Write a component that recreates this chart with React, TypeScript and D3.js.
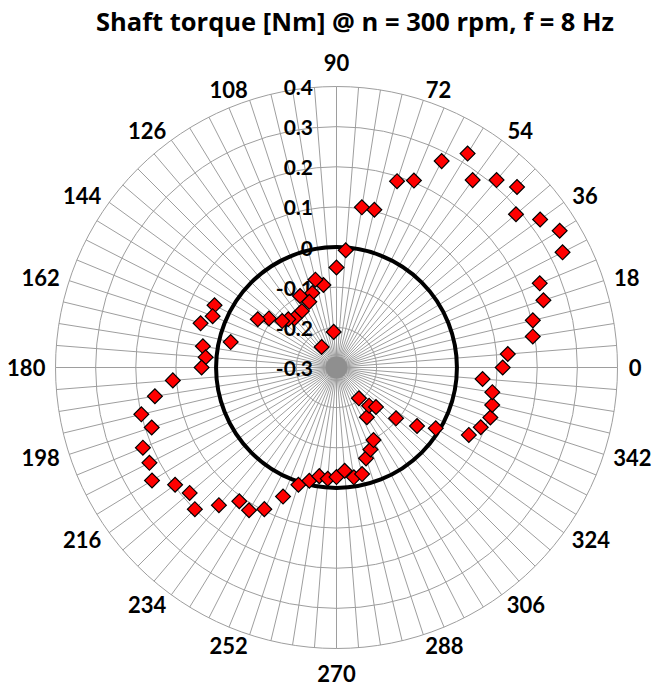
import * as d3 from "d3";

const title = "Shaft torque [Nm] @ n = 300 rpm, f = 8 Hz";

// one category per 4.5 degrees
const angles = [
  0, 4.5, 9, 13.5, 18, 22.5, 27, 31.5, 36, 40.5, 45, 49.5, 54, 58.5, 63, 67.5,
  72, 76.5, 81, 85.5, 90, 94.5, 99, 103.5, 108, 112.5, 117, 121.5, 126, 130.5,
  135, 139.5, 144, 148.5, 153, 157.5, 162, 166.5, 171, 175.5, 180, 184.5, 189,
  193.5, 198, 202.5, 207, 211.5, 216, 220.5, 225, 229.5, 234, 238.5, 243, 247.5,
  252, 256.5, 261, 265.5, 270, 274.5, 279, 283.5, 288, 292.5, 297, 301.5, 306,
  310.5, 315, 319.5, 324, 328.5, 333, 337.5, 342, 346.5, 351, 355.5,
];

const torque = [
  0.114, 0.128, 0.195, 0.203, 0.242, 0.248, 0.332, 0.352, 0.327, 0.288, 0.336,
  0.314, 0.277, 0.325, 0.277, 0.204, 0.188, 0.104, 0.104, -0.007, -0.051,
  -0.211, -0.092, -0.075, -0.105, -0.123, -0.1, -0.135, -0.237, -0.139, -0.13,
  -0.122, -0.092, -0.07, 0.041, 0.034, 0.056, -0.029, 0.037, 0.027, 0.036,
  0.109, 0.158, 0.2, 0.184, 0.222, 0.223, 0.239, 0.197, 0.181, 0.199, 0.151,
  0.112, 0.117, 0.096, 0.048, 0.007, -0.01, -0.026, -0.022, -0.027, -0.042,
  -0.023, -0.027, -0.062, -0.079, -0.097, -0.155, -0.205, -0.175, -0.161,
  -0.105, -0.052, -0.01, 0.07, 0.089, 0.103, 0.099, 0.093, 0.065,
];

// reference line drawn at zero torque
const zeroLine = 0;

const angleTicks = [
  0, 18, 36, 54, 72, 90, 108, 126, 144, 162, 180, 198, 216, 234, 252, 270, 288,
  306, 324, 342,
];
const radialTicks = [-0.3, -0.2, -0.1, 0, 0.1, 0.2, 0.3, 0.4];
const radialTickLabels = ["-0.3", "-0.2", "-0.1", "0", "0.1", "0.2", "0.3", "0.4"];

const W = 652;
const H = 685;
const cx = 336.5;
const cy = 367.5;
const R = 281;
const font = "Lato, 'Open Sans', sans-serif";

export default function App() {
  const r = d3.scaleLinear().domain([-0.3, 0.4]).range([0, R]);
  const rad = (deg: number) => (deg * Math.PI) / 180;
  const px = (deg: number, rr: number) => cx + rr * Math.cos(rad(deg));
  const py = (deg: number, rr: number) => cy - rr * Math.sin(rad(deg));

  const diamond = d3.symbol().type(d3.symbolSquare).size(110)();

  const grid = "#9e9e9e";

  // category label placement (outside the outer ring)
  const labelPos = (a: number, label: string) => {
    const c = Math.cos(rad(a));
    const s = Math.sin(rad(a));
    const w = label.length * 11.5;
    if (Math.abs(c) < 1e-6) {
      return { x: cx, y: cy - Math.sign(s) * 305.5 };
    }
    return { x: cx + 293 * c + Math.sign(c) * (w / 2), y: cy - 292.5 * s };
  };

  return (
    <svg
      width={W}
      height={H}
      style={{ position: "absolute", left: 0, top: 0, background: "#fff" }}
      fontFamily={font}
    >
      <text
        x={355}
        y={31}
        textAnchor="middle"
        fontSize={25.5}
        fontWeight="bold"
        fontFamily="'Open Sans', sans-serif"
        fill="#000"
      >
        {title}
      </text>

      {/* spokes */}
      <g stroke={grid} strokeWidth={1}>
        {angles.map((a) => (
          <line key={a} x1={cx} y1={cy} x2={px(a, R)} y2={py(a, R)} />
        ))}
      </g>
      <circle cx={cx} cy={cy} r={11} fill="#8f8f8f" />

      {/* rings */}
      <g fill="none" stroke={grid} strokeWidth={1}>
        {radialTicks
          .filter((t) => r(t) > 0)
          .map((t) => (
            <circle key={t} cx={cx} cy={cy} r={r(t)} />
          ))}
      </g>

      {/* zero circle */}
      <circle cx={cx} cy={cy} r={r(zeroLine)} fill="none" stroke="#000" strokeWidth={4} />

      {/* radial axis labels */}
      <g fontSize={21} fontWeight="bold" fill="#000" textAnchor="end">
        {radialTicks.map((t, i) => (
          <text key={t} x={313} y={cy - r(t)} dominantBaseline="central">
            {radialTickLabels[i]}
          </text>
        ))}
      </g>

      {/* angle labels */}
      <g fontSize={22} fontWeight="bold" fill="#000" textAnchor="middle">
        {angleTicks.map((a) => {
          const label = String(a);
          const p = labelPos(a, label);
          return (
            <text key={a} x={p.x} y={p.y} dominantBaseline="central">
              {label}
            </text>
          );
        })}
      </g>

      {/* data points */}
      <g fill="#ff0000" stroke="#000" strokeWidth={1.2}>
        {torque.map((v, i) => (
          <path
            key={i}
            d={diamond}
            transform={`translate(${px(angles[i], r(v))},${py(angles[i], r(v))}) rotate(45)`}
          />
        ))}
      </g>
    </svg>
  );
}
